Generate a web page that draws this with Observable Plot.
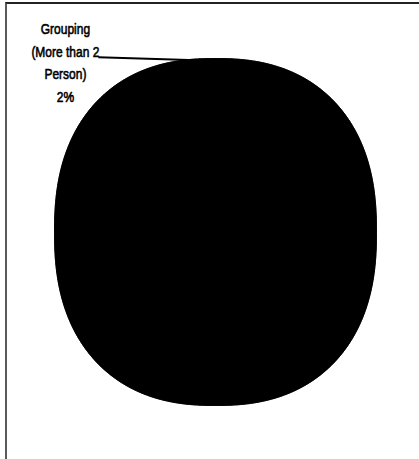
<!DOCTYPE html>
<html>
<head>
<meta charset="utf-8">
<script src="https://cdn.jsdelivr.net/npm/d3@7"></script>
<script src="https://cdn.jsdelivr.net/npm/@observablehq/plot@0.6"></script>
<style>
  html, body { margin: 0; padding: 0; background: #fff; }
  #wrap { position: relative; width: 419px; height: 459px; overflow: hidden; }
  #frame { position: absolute; left: 5px; top: 2px; width: 420px; height: 470px;
           border-left: 2px solid #5a5a5a; border-top: 2px solid #222; pointer-events: none; }
  svg { position: absolute; left: 0; top: 0; }
</style>
</head>
<body>
<div id="wrap"><div id="frame"></div></div>
<script>
// Data
const categories = ["Others", "Grouping (More than 2 Person)"];
const values = [98, 2];
const labelLines = [null, ["Grouping", "(More than 2", "Person)", "2%"]];

// Pie geometry in unit (data) coordinates; the scanned pie is slightly squarish
const shapeExp = 2.35;
const radiusAt = a => Math.pow(Math.pow(Math.abs(Math.sin(a)), shapeExp) + Math.pow(Math.abs(Math.cos(a)), shapeExp), -1 / shapeExp);
const pt = (a, k = 1) => { const r = radiusAt(a) * k; return [r * Math.sin(a), r * Math.cos(a)]; };

const arcs = d3.pie().sort(null).value(d => d.value)(categories.map((c, i) => ({name: c, value: values[i]})));

const polyPts = [];
arcs.forEach(arc => {
  polyPts.push({name: arc.data.name, x: 0, y: 0});
  const n = Math.max(2, Math.ceil((arc.endAngle - arc.startAngle) / 0.005));
  for (let j = 0; j <= n; j++) {
    const a = arc.startAngle + (arc.endAngle - arc.startAngle) * j / n;
    const [x, y] = pt(a);
    polyPts.push({name: arc.data.name, x, y});
  }
});
// whole pie outline (union of all slices) as an underlay to hide seams
const outline = polyPts.filter(p => !(p.x === 0 && p.y === 0)).map(p => ({x: p.x, y: p.y}));

const labelled = arcs.map((arc, i) => ({arc, lines: labelLines[i]})).filter(d => d.lines);
const labelData = labelled.map(d => {
  const mid = (d.arc.startAngle + d.arc.endAngle) / 2;
  const [x, y] = pt(mid);
  return {x, y, text: d.lines.join("\n")};
});

const chart = Plot.plot({
  width: 419,
  height: 459,
  margin: 0,
  x: {domain: [-1, 1], range: [54, 376], axis: null},
  y: {domain: [-1, 1], range: [405, 58], axis: null},
  marks: [
    Plot.line(outline, {x: "x", y: "y", fill: "black", stroke: "black", strokeWidth: 0.5, curve: "linear-closed"}),
    Plot.line(polyPts, {x: "x", y: "y", z: "name", fill: "black", stroke: "black", strokeWidth: 1, curve: "linear-closed"}),
    Plot.link(labelData, {x1: "x", y1: "y", x2: d => d.x - 0.665, y2: d => d.y + 0.02, stroke: "black", strokeWidth: 2, dy: 2}),
    Plot.text(labelData, {x: "x", y: "y", text: "text", dx: -140, dy: 2, textAnchor: "middle", lineHeight: 1.52,
      fontSize: 15, fill: "black", stroke: "black", strokeWidth: 0.6,
      fontFamily: "'Liberation Sans', Arial, sans-serif"})
  ]
});
// condensed look of the original typeface
chart.querySelectorAll("text").forEach(t => {
  const tr = t.getAttribute("transform") || "";
  t.setAttribute("transform", tr + " scale(0.8,1)");
});
document.getElementById("wrap").prepend(chart);
</script>
</body>
</html>
